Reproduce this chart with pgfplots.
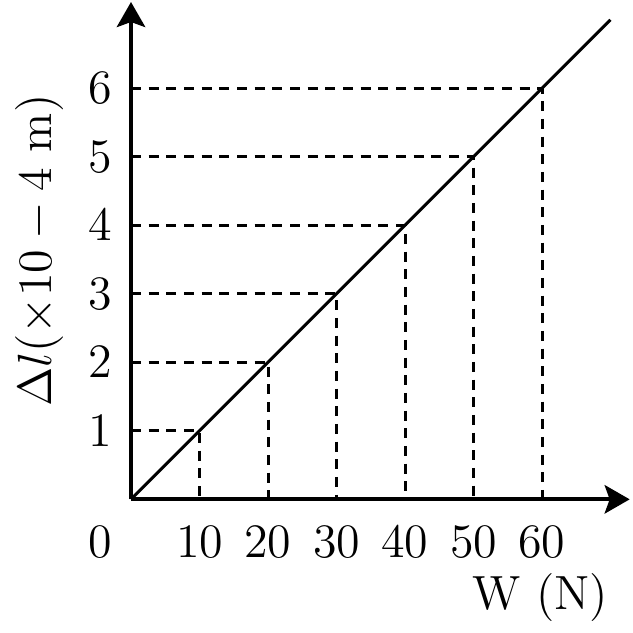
\documentclass[border=0pt]{standalone}
\usepackage{fontspec}
\usepackage{pgfplots}
\pgfplotsset{compat=1.18}
\usetikzlibrary{arrows.meta}

\newcommand{\lbl}{\fontsize{14.4}{17}\selectfont}

\begin{document}
\begin{tikzpicture}
\begin{axis}[
    at={(0,0)}, anchor=origin,
    x=2.055pt, y=20.55pt,
    xmin=0, xmax=72.8,
    ymin=0, ymax=7.26,
    axis lines=left,
    axis line style={line width=1.2pt, -{Stealth[length=7.5pt,width=8.5pt,inset=1.5pt]}},
    xtick={10,20,30,40,50,60},
    ytick={1,2,3,4,5,6},
    major tick length=0pt,
    tick label style={font=\lbl},
    xticklabel style={anchor=base, yshift=-17.4pt},
    yticklabel style={anchor=center, xshift=-9.3pt},
    clip=false,
    every axis plot/.append style={black},
    ]
% dashed guide lines for each reading
\addplot[line width=0.9pt, dash pattern=on 3pt off 2.3pt] coordinates {(0,1) (10,1) (10,0)};
\addplot[line width=0.9pt, dash pattern=on 3pt off 2.3pt] coordinates {(0,2) (20,2) (20,0)};
\addplot[line width=0.9pt, dash pattern=on 3pt off 2.3pt] coordinates {(0,3) (30,3) (30,0)};
\addplot[line width=0.9pt, dash pattern=on 3pt off 2.3pt] coordinates {(0,4) (40,4) (40,0)};
\addplot[line width=0.9pt, dash pattern=on 3pt off 2.3pt] coordinates {(0,5) (50,5) (50,0)};
\addplot[line width=0.9pt, dash pattern=on 3pt off 2.3pt] coordinates {(0,6) (60,6) (60,0)};
% the straight line through the origin
\addplot[line width=0.9pt] coordinates {(0,0) (70,7)};

\node[font=\lbl, anchor=base] at ([xshift=-9.3pt, yshift=-17.4pt]axis cs:0,0) {$0$};
\node[font=\lbl, anchor=base east] at ([xshift=146.7pt, yshift=-33pt]axis cs:0,0) {W (N)};
\node[font=\lbl, rotate=90, anchor=center] at ([xshift=-27.3pt]axis cs:0,3.63) {$\Delta l(\times 10-4$ m$)$};
\end{axis}
\path[use as bounding box] (-39.3pt,-37.2pt) rectangle (150.6pt,149.1pt);
\end{tikzpicture}
\end{document}
